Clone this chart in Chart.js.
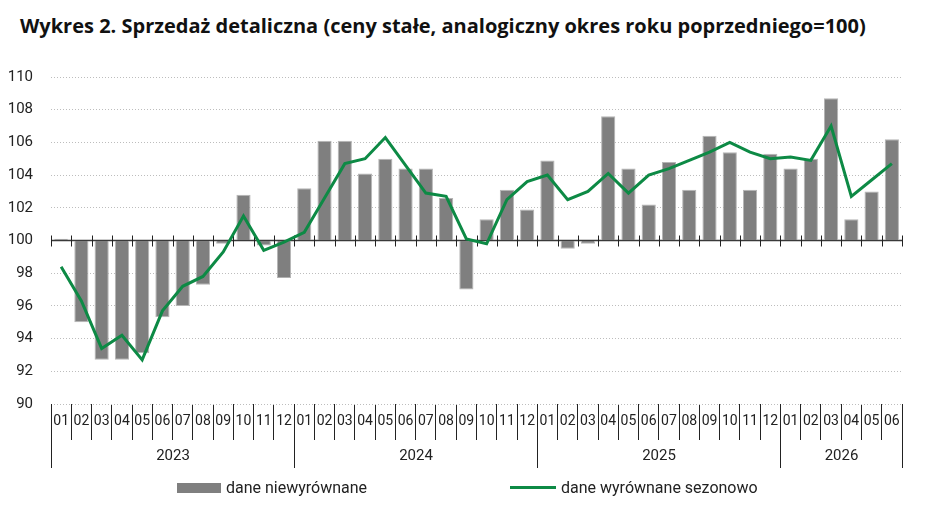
<!DOCTYPE html>
<html lang="pl">
<head>
<meta charset="utf-8">
<title>Wykres 2. Sprzedaż detaliczna</title>
<script src="https://cdn.jsdelivr.net/npm/chart.js@4"></script>
<style>
  html, body { margin: 0; padding: 0; background: #fff; }
  body { width: 933px; height: 512px; position: relative; overflow: hidden;
         font-family: "Roboto", "Noto Sans", sans-serif; color: #222; }
  #tytul { position: absolute; left: 20px; top: 12px; font-size: 20px; font-weight: bold;
           font-family: "Open Sans", "Noto Sans", sans-serif; color: #111; white-space: nowrap; }
  #wykres { position: absolute; left: 0; top: 0; }
  .leg { position: absolute; top: 476px; font-size: 16px; white-space: nowrap; line-height: 22px; }
  .leg span { display: inline-block; vertical-align: middle; }
</style>
</head>
<body>
<div id="tytul">Wykres 2. Sprzedaż detaliczna (ceny stałe, analogiczny okres roku poprzedniego=100)</div>
<canvas id="wykres" width="933" height="512"></canvas>
<div class="leg" style="left:177px"><span style="width:44px;height:10px;background:#7f7f7f;margin-right:5px"></span><span>dane niewyrównane</span></div>
<div class="leg" style="left:510px"><span style="width:46px;height:3px;background:#0d8a45;margin-right:5px"></span><span>dane wyrównane sezonowo</span></div>
<script>
// dane: sprzedaż detaliczna, analogiczny okres roku poprzedniego = 100
const miesiace = [
    '01','02','03','04','05','06','07','08','09','10','11','12',
    '01','02','03','04','05','06','07','08','09','10','11','12',
    '01','02','03','04','05','06','07','08','09','10','11','12',
    '01','02','03','04','05','06'
];
const lata = ['2023', '2024', '2025', '2026'];
const mcyWRoku = [12, 12, 12, 6];

const niewyrownane = [
    100.1, 95.0, 92.7, 92.7, 93.1, 95.3, 96.0, 97.3, 99.8, 102.8, 99.7, 97.7,
    103.2, 106.1, 106.1, 104.1, 105.0, 104.4, 104.4, 102.6, 97.0, 101.3, 103.1, 101.9,
    104.9, 99.5, 99.8, 107.6, 104.4, 102.2, 104.8, 103.1, 106.4, 105.4, 103.1, 105.3,
    104.4, 105.0, 108.7, 101.3, 103.0, 106.2
];
const wyrownane = [
    98.4, 96.3, 93.4, 94.2, 92.7, 95.7, 97.2, 97.8, 99.3, 101.5, 99.4, 99.9,
    100.5, 102.6, 104.7, 105.0, 106.3, 104.6, 102.9, 102.7, 100.1, 99.8, 102.5, 103.6,
    104.0, 102.5, 103.0, 104.1, 102.9, 104.0, 104.4, 104.9, 105.4, 106.0, 105.4, 105.0,
    105.1, 104.9, 107.0, 102.7, 103.7, 104.7
];
const yTicks = [90, 92, 94, 96, 98, 100, 102, 104, 106, 108, 110];

const fontTxt = '"Roboto", "Noto Sans", sans-serif';

// linia 100 z kreskami, podział na lata pod osią
const osiePlugin = {
    id: 'osie',
    beforeDatasetsDraw(chart) {
        const { ctx, chartArea, scales: { x, y } } = chart;
        const y100 = y.getPixelForValue(100);
        ctx.save();
        ctx.strokeStyle = '#3a3a3a';
        ctx.lineWidth = 1.5;
        ctx.beginPath();
        ctx.moveTo(chartArea.left, y100);
        ctx.lineTo(chartArea.right, y100);
        ctx.stroke();
        ctx.lineWidth = 1;
        ctx.strokeStyle = '#222';
        for (let i = 0; i <= miesiace.length; i++) {
            const px = Math.round(x.getPixelForValue(i - 0.5)) + 0.5;
            ctx.beginPath();
            ctx.moveTo(px, y100 - 5);
            ctx.lineTo(px, y100 + 6);
            ctx.stroke();
        }
        ctx.restore();
    },
    afterDraw(chart) {
        const { ctx, chartArea, scales: { x } } = chart;
        ctx.save();
        ctx.strokeStyle = '#222';
        ctx.lineWidth = 1;
        ctx.fillStyle = '#222';
        ctx.font = '15px ' + fontTxt;
        ctx.textAlign = 'center';
        ctx.textBaseline = 'middle';
        let start = 0;
        lata.forEach((rok, k) => {
            const end = start + mcyWRoku[k];
            const x0 = Math.round(x.getPixelForValue(start - 0.5)) + 0.5;
            const x1 = Math.round(x.getPixelForValue(end - 0.5)) + 0.5;
            ctx.beginPath();
            ctx.moveTo(x0, chartArea.bottom);
            ctx.lineTo(x0, chartArea.bottom + 64);
            ctx.moveTo(x1, chartArea.bottom);
            ctx.lineTo(x1, chartArea.bottom + 64);
            ctx.stroke();
            ctx.fillText(rok, (x0 + x1) / 2, chartArea.bottom + 52);
            start = end;
        });
        ctx.restore();
    }
};

function rysujWykres() {
    const ctx = document.getElementById('wykres').getContext('2d');
    new Chart(ctx, {
        type: 'bar',
        data: {
            labels: miesiace,
            datasets: [
                {
                    type: 'line',
                    label: 'dane wyrównane sezonowo',
                    data: wyrownane,
                    borderColor: '#0d8a45',
                    borderWidth: 3,
                    pointRadius: 0,
                    tension: 0,
                    order: 0
                },
                {
                    label: 'dane niewyrównane',
                    data: niewyrownane,
                    base: 100,
                    backgroundColor: '#7f7f7f',
                    borderColor: '#b5b5b5',
                    borderWidth: 1,
                    barPercentage: 0.7,
                    categoryPercentage: 1,
                    order: 1
                }
            ]
        },
        options: {
            responsive: false,
            animation: false,
            layout: { padding: { left: 0, right: 31, top: 77, bottom: 38 } },
            plugins: {
                legend: { display: false },
                title: { display: false },
                tooltip: { enabled: false }
            },
            scales: {
                x: {
                    offset: true,
                    afterFit: (s) => { s.height = 70; },
                    grid: { offset: true, drawOnChartArea: false, drawTicks: true, tickLength: 36, color: '#222' },
                    border: { display: false },
                    ticks: { padding: -27, autoSkip: false, maxRotation: 0, color: '#222', font: { family: fontTxt, size: 14 } }
                },
                y: {
                    min: 90,
                    max: 110,
                    afterFit: (s) => { s.width = 51; },
                    afterBuildTicks: (s) => { s.ticks = yTicks.map(v => ({ value: v })); },
                    grid: { drawTicks: false, color: '#bdbdbd', lineWidth: 1 },
                    border: { display: false, dash: [1, 2] },
                    ticks: { padding: 18, color: '#222', font: { family: fontTxt, size: 15 } }
                }
            }
        },
        plugins: [osiePlugin]
    });
}

window.addEventListener('DOMContentLoaded', rysujWykres);
</script>
</body>
</html>
